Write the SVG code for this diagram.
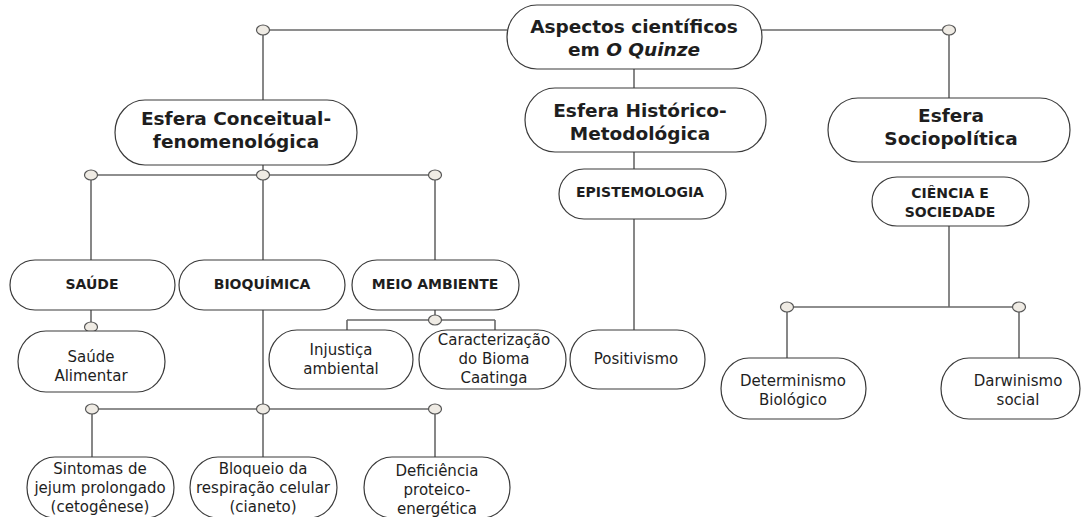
<svg xmlns="http://www.w3.org/2000/svg" width="1081" height="517" viewBox="0 0 1081 517">
<style>
.n{fill:#fff;stroke:#3a3a3a;stroke-width:1.2}
.c{fill:none;stroke:#6a6a6a;stroke-width:1.6}
.d{fill:#efebe4;stroke:#555;stroke-width:1.2}
text{font-family:"DejaVu Sans","Noto Sans",sans-serif;fill:#1e1e1e;text-anchor:middle}
.h{font-size:18.5px;font-weight:700}
.s{font-size:14px;font-weight:700}
.b{font-size:15px;font-weight:400}
</style>
<rect width="1081" height="517" fill="#fff"/>
<g id="connectors">
<path class="c" d="M263 30H507M762 30H949M263 30V100M949 30V98M634 69V88M634 152V169M634 219V330"/>
<path class="c" d="M263 165V175M91 175H435M91 175V260M263 175V260M435 175V260"/>
<path class="c" d="M91 310V331M435 310V320M347 320H495M347 320V330M495 320V330"/>
<path class="c" d="M263 310V409M92 409H435M92 409V457M263 409V457M435 409V457"/>
<path class="c" d="M949 226V307M787 307H1019M787 307V358M1019 307V358"/>
<g id="dots">
<ellipse class="d" cx="263" cy="30" rx="6.5" ry="5"/>
<ellipse class="d" cx="949" cy="30" rx="6.5" ry="5"/>
<ellipse class="d" cx="91" cy="175" rx="6.5" ry="5"/>
<ellipse class="d" cx="263" cy="175" rx="6.5" ry="5"/>
<ellipse class="d" cx="435" cy="175" rx="6.5" ry="5"/>
<ellipse class="d" cx="91" cy="327" rx="6.5" ry="5"/>
<ellipse class="d" cx="435" cy="320" rx="6.5" ry="5"/>
<ellipse class="d" cx="92" cy="409" rx="6.5" ry="5"/>
<ellipse class="d" cx="263" cy="409" rx="6.5" ry="5"/>
<ellipse class="d" cx="435" cy="409" rx="6.5" ry="5"/>
<ellipse class="d" cx="787" cy="307" rx="6.5" ry="5"/>
<ellipse class="d" cx="1019" cy="307" rx="6.5" ry="5"/>
</g>
</g>
<g id="root"><rect class="n" x="507" y="5" width="255" height="64" rx="30" ry="32"/>
<text class="h" x="634" y="33">Aspectos científicos</text>
<text class="h" x="634" y="56">em <tspan font-style="italic">O Quinze</tspan></text></g>
<g id="conceitual"><rect class="n" x="115" y="100" width="242" height="65" rx="30" ry="32.5"/>
<text class="h" x="236" y="125">Esfera Conceitual-</text>
<text class="h" x="236" y="148">fenomenológica</text></g>
<g id="historico"><rect class="n" x="525" y="88" width="241" height="64" rx="30" ry="32"/>
<text class="h" x="640" y="117">Esfera Histórico-</text>
<text class="h" x="640" y="140">Metodológica</text></g>
<g id="sociopolitica"><rect class="n" x="828" y="98" width="242" height="64" rx="30" ry="32"/>
<text class="h" x="951" y="122">Esfera</text>
<text class="h" x="951" y="145">Sociopolítica</text></g>
<g id="epistemologia"><rect class="n" x="559" y="169" width="167" height="50" rx="25" ry="25"/>
<text class="s" x="640" y="197">EPISTEMOLOGIA</text></g>
<g id="ciencia"><rect class="n" x="872" y="177" width="157" height="49" rx="25" ry="24.5"/>
<text class="s" x="950" y="198">CIÊNCIA E</text>
<text class="s" x="950" y="217">SOCIEDADE</text></g>
<g id="saude"><rect class="n" x="10" y="260" width="165" height="50" rx="25" ry="25"/>
<text class="s" x="92" y="289">SAÚDE</text></g>
<g id="bioquimica"><rect class="n" x="179" y="260" width="166" height="50" rx="25" ry="25"/>
<text class="s" x="262" y="289">BIOQUÍMICA</text></g>
<g id="meio-ambiente"><rect class="n" x="352" y="260" width="167" height="50" rx="25" ry="25"/>
<text class="s" x="435" y="289">MEIO AMBIENTE</text></g>
<g id="saude-alimentar"><rect class="n" x="18" y="331" width="147" height="61" rx="28" ry="30.5"/>
<text class="b" x="91" y="362">Saúde</text>
<text class="b" x="91" y="381">Alimentar</text></g>
<g id="injustica"><rect class="n" x="269" y="330" width="144" height="59" rx="28" ry="29.5"/>
<text class="b" x="341" y="355">Injustiça</text>
<text class="b" x="341" y="374">ambiental</text></g>
<g id="caatinga"><rect class="n" x="419" y="330" width="147" height="59" rx="28" ry="29.5"/>
<text class="b" x="494" y="345">Caracterização</text>
<text class="b" x="494" y="364">do Bioma</text>
<text class="b" x="494" y="383">Caatinga</text></g>
<g id="positivismo"><rect class="n" x="570" y="330" width="135" height="59" rx="28" ry="29.5"/>
<text class="b" x="636" y="364">Positivismo</text></g>
<g id="determinismo"><rect class="n" x="721" y="358" width="145" height="61" rx="28" ry="30.5"/>
<text class="b" x="793" y="386">Determinismo</text>
<text class="b" x="793" y="405">Biológico</text></g>
<g id="darwinismo"><rect class="n" x="941" y="358" width="139" height="61" rx="28" ry="30.5"/>
<text class="b" x="1018" y="386">Darwinismo</text>
<text class="b" x="1018" y="405">social</text></g>
<g id="sintomas"><rect class="n" x="27" y="457" width="147" height="61" rx="28" ry="30.5"/>
<text class="b" x="100" y="474">Sintomas de</text>
<text class="b" x="100" y="493">jejum prolongado</text>
<text class="b" x="100" y="512">(cetogênese)</text></g>
<g id="bloqueio"><rect class="n" x="190" y="457" width="147" height="61" rx="28" ry="30.5"/>
<text class="b" x="263" y="474">Bloqueio da</text>
<text class="b" x="263" y="493">respiração celular</text>
<text class="b" x="263" y="512">(cianeto)</text></g>
<g id="deficiencia"><rect class="n" x="364" y="457" width="146" height="61" rx="28" ry="30.5"/>
<text class="b" x="437" y="476">Deficiência</text>
<text class="b" x="437" y="495">proteico-</text>
<text class="b" x="437" y="514">energética</text></g>
</svg>
